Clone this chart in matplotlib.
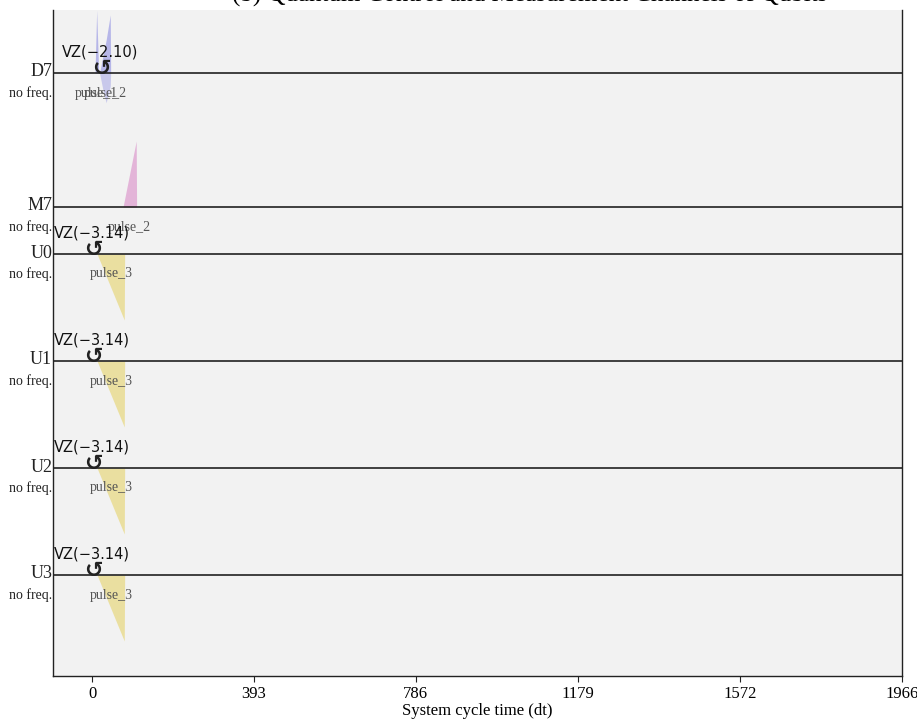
import matplotlib
matplotlib.use('Agg')
import matplotlib.pyplot as plt

# channel rows, top to bottom
channels = ['D7', 'M7', 'U0', 'U1', 'U2', 'U3']
row_offsets = [-63, -197, -244, -351, -458, -565]   # baseline of each row (axes units)
amp_scale = 66                                        # height of a unit amplitude

# drive channel D7: two short pulses
d7_p1_t = [7, 11, 16]
d7_p1_re = [0.0, 0.95, 0.0]
d7_p2_t = [18, 26, 34, 44, 45]
d7_p2_re = [0.0, 0.25, 0.5, 0.88, 0.0]
d7_p2_im = [0.0, -0.25, -0.45, -0.2, 0.0]

# measure channel M7
m7_t = [75, 91, 107, 108]
m7_re = [0.0, 0.5, 1.0, 0.0]

# control channels U0..U3 share the same pulse
u_t = [12, 45, 78, 79]
u_re = [0.0, -0.5, -1.0, 0.0]

# virtual Z phase shifts: (channel, time, phase)
vz_events = [('D7', 20, -2.10), ('U0', 0, -3.14), ('U1', 0, -3.14),
             ('U2', 0, -3.14), ('U3', 0, -3.14)]

x_ticks = [0, 393, 786, 1179, 1572, 1966]

serif = 'Liberation Serif'
c_drive = '#7c7ce0'
c_meas = '#d98cc8'
c_ctrl = '#e6d36a'

fig = plt.figure(figsize=(9.17, 7.21), dpi=100)
ax = fig.add_axes([53 / 917, 45 / 721, 849 / 917, 666 / 721])
ax.set_facecolor('#f2f2f2')
ax.set_xlim(-95, 1966)
ax.set_ylim(-666, 0)

off = dict(zip(channels, row_offsets))


def fill(t, vals, base, color, alpha):
    ax.fill_between(t, base, [base + v * amp_scale for v in vals],
                    color=color, alpha=alpha, linewidth=0)


def pulse_label(t, base, text):
    ax.text((t[0] + t[-1]) / 2, base - 20, text, ha='center', va='center',
            fontsize=10, family=serif, color='#555555')


# D7
fill(d7_p1_t, d7_p1_re, off['D7'], c_drive, 0.5)
fill(d7_p2_t, d7_p2_re, off['D7'], c_drive, 0.5)
fill(d7_p2_t, d7_p2_im, off['D7'], c_drive, 0.35)
pulse_label(d7_p1_t, off['D7'], 'pulse_1')
pulse_label(d7_p2_t, off['D7'], 'pulse_2')

# M7
fill(m7_t, m7_re, off['M7'], c_meas, 0.6)
pulse_label(m7_t, off['M7'], 'pulse_2')

# U0..U3
for ch in ['U0', 'U1', 'U2', 'U3']:
    fill(u_t, u_re, off[ch], c_ctrl, 0.6)
    pulse_label(u_t, off[ch], 'pulse_3')

# baselines and channel names
for ch, base in zip(channels, row_offsets):
    ax.axhline(base, color='#222222', linewidth=1.2, zorder=3)
    ax.text(-97, base + 1, ch, ha='right', va='center', fontsize=13,
            family=serif, color='#222222')
    ax.text(-97, base - 20, 'no freq.', ha='right', va='center', fontsize=10,
            family=serif, color='#222222')

# phase shift markers
for ch, t, phase in vz_events:
    base = off[ch]
    ax.text(t + 2, base + 4, '\u21ba', ha='center', va='center', fontsize=16,
            fontweight='bold', color='#222222', zorder=4)
    ax.text(t, base + 21, 'VZ(\u2212%.2f)' % abs(phase), ha='center',
            va='center', fontsize=10.5, color='#111111', zorder=4)

ax.set_yticks([])
ax.set_xticks(x_ticks)
ax.set_xticklabels([str(v) for v in x_ticks], family=serif, fontsize=12)
ax.tick_params(axis='x', length=4, color='#222222', pad=3)
ax.set_xlabel('System cycle time (dt)', family=serif, fontsize=12, labelpad=1)
ax.spines['top'].set_visible(False)
for s in ['left', 'right', 'bottom']:
    ax.spines[s].set_color('#222222')
    ax.spines[s].set_linewidth(1.0)

# title, sits mostly above the top edge of the canvas
fig.text(530 / 917, 1 - 2 / 721, '(b) Quantum Control and Measurement Channels of Qubits',
         ha='center', va='baseline', fontsize=18, family=serif)

fig.savefig('out.png', dpi=100)
